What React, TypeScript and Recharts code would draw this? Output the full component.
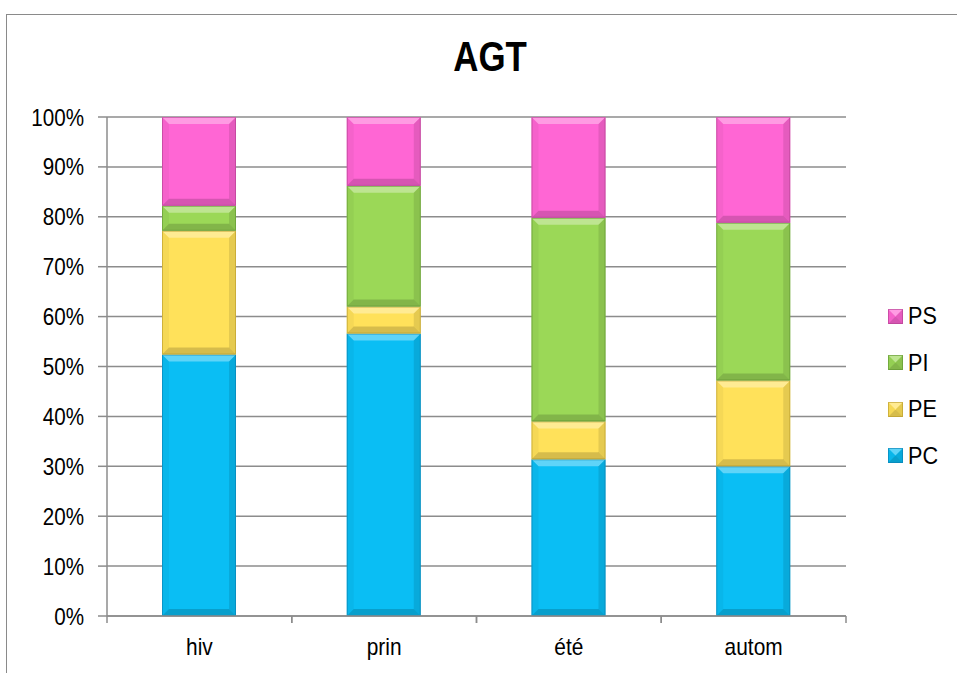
import React from 'react'
import { BarChart, Bar, XAxis, YAxis, CartesianGrid } from 'recharts'

const categories = ['hiv', 'prin', 'été', 'autom']
const pcValues = [52.4, 56.6, 31.4, 30]
const peValues = [24.8, 5.4, 7.6, 17.2]
const piValues = [5, 24.2, 40.8, 31.6]
const psValues = [17.8, 13.8, 20.2, 21.2]
const yTicks = [0, 0.1, 0.2, 0.3, 0.4, 0.5, 0.6, 0.7, 0.8, 0.9, 1]

const series = [
  { key: 'PC', fill: '#0abef4', edge: '#0a7fb0' },
  { key: 'PE', fill: '#ffe15a', edge: '#b89a2a' },
  { key: 'PI', fill: '#9bd857', edge: '#5f9230' },
  { key: 'PS', fill: '#ff66d4', edge: '#b0408f' },
]

const chartData = categories.map((name, i) => ({
  name,
  PC: pcValues[i],
  PE: peValues[i],
  PI: piValues[i],
  PS: psValues[i],
}))

const FONT = "'Liberation Sans', Arial, sans-serif"
const GRID = '#8c8c8c'

// bar segment with a bevelled look
// eslint-disable-next-line @typescript-eslint/no-explicit-any
const Bevel = (props: any) => {
  const { x, y, width, height, fill, edge } = props
  if (!height || height <= 0) return null
  const b = Math.min(7, height / 2, width / 2)
  const x2 = x + width
  const y2 = y + height
  return (
    <g>
      <rect x={x} y={y} width={width} height={height} fill={fill} />
      <polygon points={`${x},${y} ${x2},${y} ${x2 - b},${y + b} ${x + b},${y + b}`} fill="#fff" fillOpacity={0.35} />
      <polygon points={`${x},${y} ${x + b},${y + b} ${x + b},${y2 - b} ${x},${y2}`} fill="#000" fillOpacity={0.04} />
      <polygon points={`${x2},${y} ${x2},${y2} ${x2 - b},${y2 - b} ${x2 - b},${y + b}`} fill="#000" fillOpacity={0.1} />
      <polygon points={`${x},${y2} ${x + b},${y2 - b} ${x2 - b},${y2 - b} ${x2},${y2}`} fill="#000" fillOpacity={0.16} />
      <rect x={x + 0.5} y={y + 0.5} width={width - 1} height={height - 1} fill="none" stroke={edge} strokeOpacity={0.6} />
    </g>
  )
}

const TICK_SIZE = 7
const TICK_MARGIN = 15

// category label plus tick marks at the band edges
// eslint-disable-next-line @typescript-eslint/no-explicit-any
const XTick = (props: any) => {
  const { x, y, payload } = props
  const axisY = y - TICK_SIZE - TICK_MARGIN
  const off = payload.offset || 92
  return (
    <g>
      <line x1={x - off} y1={axisY} x2={x - off} y2={axisY + TICK_SIZE} stroke={GRID} strokeWidth={1.5} />
      <line x1={x + off} y1={axisY} x2={x + off} y2={axisY + TICK_SIZE} stroke={GRID} strokeWidth={1.5} />
      <text
        transform={`translate(${x},${y}) scale(0.87,1)`}
        dy="0.71em"
        textAnchor="middle"
        fill="#000"
        fontSize={24}
        fontFamily={FONT}
      >
        {payload.value}
      </text>
    </g>
  )
}

// eslint-disable-next-line @typescript-eslint/no-explicit-any
const YTick = (props: any) => {
  const { x, y, payload } = props
  return (
    <text
      transform={`translate(${x},${y}) scale(0.86,1)`}
      dy="0.355em"
      textAnchor="end"
      fill="#000"
      fontSize={24}
      fontFamily={FONT}
    >
      {`${Math.round(payload.value * 100)}%`}
    </text>
  )
}

function LegendIcon({ fill, edge }: { fill: string; edge: string }) {
  return (
    <svg width={15} height={15} style={{ display: 'block' }}>
      <Bevel x={0} y={0} width={15} height={15} fill={fill} edge={edge} />
    </svg>
  )
}

export default function App() {
  const legendItems = [...series].reverse()
  return (
    <div style={{ position: 'absolute', left: 0, top: 0, width: 957, height: 673, background: '#fff', overflow: 'hidden' }}>
      <div
        style={{
          position: 'absolute',
          left: 6,
          top: 14,
          width: 980,
          height: 700,
          border: '1.5px solid #8a8a8a',
          boxSizing: 'border-box',
        }}
      />
      <div
        style={{
          position: 'absolute',
          left: 490 - 100,
          top: 34,
          width: 200,
          textAlign: 'center',
          fontFamily: FONT,
          fontWeight: 'bold',
          fontSize: 42,
          lineHeight: '46px',
          transform: 'scaleX(0.83)',
        }}
      >
        AGT
      </div>
      <div style={{ position: 'absolute', left: 0, top: 0 }}>
        <BarChart
          width={957}
          height={673}
          data={chartData}
          stackOffset="expand"
          barSize={74}
          margin={{ top: 117, right: 111, left: 12, bottom: 17 }}
        >
          <CartesianGrid vertical={false} stroke={GRID} strokeWidth={1.5} />
          <XAxis
            dataKey="name"
            height={40}
            tickLine={false}
            tickSize={TICK_SIZE}
            tickMargin={TICK_MARGIN}
            axisLine={{ stroke: GRID, strokeWidth: 1.5 }}
            tick={<XTick />}
            interval={0}
          />
          <YAxis
            width={95}
            domain={[0, 1]}
            ticks={yTicks}
            interval={0}
            tickSize={9}
            tickMargin={14}
            tickLine={{ stroke: GRID, strokeWidth: 1.5 }}
            axisLine={{ stroke: GRID, strokeWidth: 1.5 }}
            tick={<YTick />}
          />
          {series.map((s) => (
            <Bar
              key={s.key}
              dataKey={s.key}
              stackId="a"
              fill={s.fill}
              shape={<Bevel edge={s.edge} />}
              isAnimationActive={false}
            />
          ))}
        </BarChart>
      </div>
      {legendItems.map((s, i) => (
        <div
          key={s.key}
          style={{
            position: 'absolute',
            left: 888,
            top: 302 + i * 46.5,
            height: 28,
            display: 'flex',
            alignItems: 'center',
            fontFamily: FONT,
            fontSize: 24,
          }}
        >
          <LegendIcon fill={s.fill} edge={s.edge} />
          <span style={{ marginLeft: 5, display: 'inline-block', transform: 'scaleX(0.9)', transformOrigin: 'left center' }}>
            {s.key}
          </span>
        </div>
      ))}
    </div>
  )
}
